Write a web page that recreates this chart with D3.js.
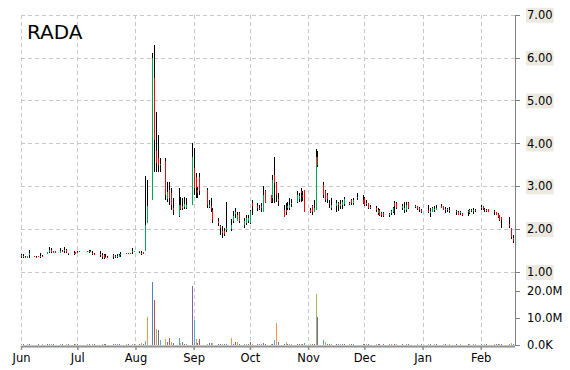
<!DOCTYPE html>
<html>
<head>
<meta charset="utf-8">
<script src="https://cdn.jsdelivr.net/npm/d3@7"></script>
<style>
  html, body { margin: 0; padding: 0; background: #fff; }
  svg { display: block; font-family: "DejaVu Sans", Verdana, sans-serif; }
</style>
</head>
<body>
<svg id="chart" width="570" height="370"></svg>
<script>
// ticker shown top-left
var ticker = "RADA";

// months in the chart, market holidays and last session
var months = ["2015-06", "2015-07", "2015-08", "2015-09", "2015-10", "2015-11", "2015-12", "2016-01", "2016-02"];
var holidays = ["2015-07-03", "2015-09-07", "2015-11-26", "2015-12-25", "2016-01-01", "2016-01-18", "2016-02-15"];
var lastSession = "2016-02-19";

// daily [open, high, low, close], one array per month
var pricesJun = [
	[1.40,1.42,1.33,1.35],[1.36,1.41,1.33,1.38],[1.36,1.38,1.33,1.35],[1.33,1.38,1.32,1.38],[1.40,1.51,1.32,1.44],
	[1.37,1.38,1.35,1.36],[1.36,1.38,1.32,1.34],[1.38,1.38,1.36,1.37],[1.37,1.44,1.32,1.38],[1.38,1.40,1.36,1.37],
	[1.42,1.47,1.41,1.47],[1.47,1.59,1.44,1.52],[1.52,1.55,1.44,1.46],[1.49,1.50,1.44,1.45],[1.48,1.50,1.44,1.45],
	[1.45,1.55,1.44,1.50],[1.50,1.52,1.46,1.47],[1.48,1.59,1.44,1.52],[1.52,1.53,1.44,1.47],[1.44,1.44,1.40,1.41],
	[1.42,1.50,1.40,1.44],[1.46,1.47,1.42,1.43]
];
var pricesJul = [
	[1.47,1.48,1.44,1.45],[1.49,1.50,1.47,1.48],
	[1.49,1.50,1.47,1.48],[1.50,1.51,1.45,1.46],[1.50,1.51,1.47,1.48],[1.45,1.49,1.40,1.44],[1.43,1.45,1.41,1.42],
	[1.42,1.48,1.36,1.40],[1.40,1.44,1.30,1.36],[1.39,1.41,1.30,1.32],[1.34,1.42,1.32,1.36],[1.36,1.38,1.33,1.35],
	[1.40,1.43,1.30,1.34],[1.38,1.40,1.33,1.35],[1.34,1.43,1.32,1.38],[1.36,1.42,1.35,1.40],[1.39,1.46,1.36,1.43],
	[1.44,1.45,1.41,1.42],[1.44,1.45,1.41,1.42],[1.44,1.45,1.42,1.43],[1.46,1.56,1.42,1.50],[1.48,1.50,1.46,1.48]
];
var pricesAug = [
	[1.48,1.49,1.45,1.46],[1.45,1.50,1.40,1.44],[1.46,1.47,1.42,1.43],[1.50,3.23,1.50,2.10],[2.14,3.15,2.14,2.53],
	[2.68,6.11,2.68,5.99],[5.52,6.30,3.34,4.08],[3.81,4.74,3.34,3.54],[3.65,4.20,3.34,3.50],[3.50,3.65,3.34,3.52],
	[3.58,3.65,2.68,2.80],[2.70,3.11,2.64,2.87],[2.92,3.11,2.56,2.72],[2.84,2.96,2.45,2.56],[2.50,2.72,2.33,2.45],
	[2.30,2.96,2.28,2.56],[2.56,2.76,2.45,2.48],[2.50,2.72,2.45,2.55],[2.52,2.76,2.48,2.58],[2.49,2.72,2.48,2.56],
	[2.56,4.00,2.56,3.69]
];
var pricesSep = [
	[3.42,3.89,2.80,2.95],[3.22,3.30,2.72,2.95],[2.91,2.99,2.72,2.84],[3.22,3.30,2.80,2.88],
	[2.91,2.96,2.49,2.56],[2.52,2.68,2.49,2.56],[2.55,2.72,2.41,2.48],[2.45,2.49,2.14,2.22],
	[2.20,2.26,2.07,2.15],[2.07,2.10,1.86,2.02],[1.95,2.07,1.80,1.92],[1.96,2.03,1.84,1.88],[1.98,2.64,1.94,2.02],
	[2.00,2.23,1.95,2.10],[2.20,2.43,2.15,2.30],[2.35,2.49,2.26,2.40],[2.20,2.40,2.18,2.34],[2.37,2.40,2.15,2.18],
	[2.10,2.26,2.03,2.18],[2.15,2.33,2.10,2.25],[2.20,2.33,2.15,2.26]
];
var pricesOct = [
	[2.15,2.45,2.12,2.42],[2.61,2.68,2.33,2.53],
	[2.53,2.62,2.43,2.49],[2.50,2.56,2.45,2.48],[2.53,2.60,2.41,2.49],[2.41,3.00,2.40,2.80],[2.88,2.92,2.60,2.60],
	[2.80,2.80,2.60,2.64],[2.72,3.27,2.60,3.15],[3.27,3.69,2.60,3.07],[3.07,3.11,2.64,2.80],[2.70,2.84,2.53,2.66],
	[2.45,2.56,2.29,2.29],[2.45,2.60,2.33,2.40],[2.50,2.64,2.45,2.55],[2.49,2.72,2.45,2.56],[2.58,2.70,2.52,2.62],
	[2.64,2.88,2.60,2.80],[2.70,2.84,2.64,2.78],[2.88,2.96,2.64,2.84],[2.80,2.90,2.65,2.75],[2.92,2.92,2.41,2.41]
];
var pricesNov = [
	[2.45,2.49,2.37,2.40],[2.53,2.56,2.33,2.41],[2.41,2.68,2.40,2.49],[2.45,3.86,2.45,3.69],[3.69,3.82,3.46,3.50],
	[3.03,3.11,2.72,2.80],[2.90,2.92,2.64,2.68],[2.80,2.84,2.60,2.70],[2.62,2.68,2.49,2.58],[2.49,2.72,2.45,2.56],
	[2.53,2.68,2.41,2.60],[2.60,2.64,2.43,2.56],[2.55,2.68,2.46,2.58],[2.56,2.68,2.46,2.64],[2.58,2.76,2.53,2.70],
	[2.60,2.64,2.56,2.62],[2.68,2.70,2.56,2.60],[2.62,2.72,2.56,2.68],[2.74,2.84,2.68,2.76],
	[2.68,2.80,2.58,2.60]
];
var pricesDec = [
	[2.72,2.74,2.54,2.56],[2.58,2.68,2.53,2.60],[2.60,2.62,2.47,2.49],[2.50,2.56,2.47,2.52],
	[2.50,2.53,2.41,2.45],[2.37,2.49,2.33,2.45],[2.45,2.47,2.31,2.33],[2.38,2.41,2.29,2.33],[2.37,2.39,2.29,2.31],
	[2.33,2.37,2.29,2.35],[2.37,2.45,2.33,2.43],[2.39,2.51,2.37,2.49],[2.60,2.66,2.33,2.53],[2.62,2.64,2.47,2.49],
	[2.50,2.58,2.45,2.55],[2.45,2.64,2.37,2.50],[2.45,2.64,2.41,2.56],[2.62,2.64,2.47,2.49],
	[2.52,2.56,2.49,2.54],[2.53,2.53,2.45,2.47],[2.49,2.51,2.41,2.45],[2.45,2.47,2.37,2.39]
];
var pricesJan = [
	[2.45,2.56,2.37,2.40],[2.38,2.49,2.29,2.42],[2.41,2.51,2.40,2.49],[2.45,2.53,2.41,2.47],[2.45,2.56,2.44,2.50],
	[2.55,2.58,2.49,2.49],[2.53,2.53,2.45,2.45],[2.48,2.51,2.38,2.44],[2.45,2.49,2.41,2.46],[2.45,2.51,2.38,2.42],
	[2.42,2.45,2.33,2.40],[2.41,2.43,2.33,2.33],[2.38,2.43,2.33,2.40],[2.37,2.37,2.30,2.33],
	[2.40,2.45,2.30,2.42],[2.37,2.46,2.36,2.45],[2.45,2.46,2.41,2.42],[2.44,2.49,2.35,2.45],[2.45,2.47,2.41,2.44]
];
var pricesFeb = [
	[2.50,2.56,2.45,2.52],[2.55,2.55,2.44,2.46],[2.47,2.49,2.41,2.45],[2.45,2.48,2.41,2.44],[2.46,2.47,2.40,2.41],
	[2.42,2.45,2.33,2.40],[2.40,2.41,2.32,2.33],[2.35,2.37,2.25,2.28],[2.33,2.33,2.20,2.21],[2.28,2.29,2.02,2.21],
	[2.12,2.29,2.02,2.08],[2.03,2.03,1.78,1.82],[1.80,1.86,1.67,1.72],[1.64,1.86,1.55,1.71]
];

// daily volume in millions of shares, one array per month
var volumeJun = [0.3,0.2,0.1,0.3,0.2, 0.1,0.0,0.2,0.1,0.3, 0.2,0.4,0.3,0.2,0.1, 0.3,0.2,0.1,0.3,0.2, 0.4,0.2];
var volumeJul = [0.2,0.1, 0.3,0.2,0.1,0.2,0.3, 0.1,0.2,0.3,0.2,0.1, 0.2,0.3,0.4,0.2,0.1, 0.3,0.2,0.1,0.2,0.4];
var volumeAug = [0.3,0.6,0.3,1.5,10.5, 23.5,16.7,5.9,5.6,1.9, 2.2,1.2,2.7,1.2,0.6, 2.7,0.6,1.2,0.5,0.5, 22.0];
var volumeSep = [9.3,2.3,0.7,2.2, 0.5,0.6,0.7,0.6, 0.4,0.3,0.2,0.3,0.5, 2.6,0.3,1.0,1.0,0.2, 0.3,0.4,0.3];
var volumeOct = [1.0,0.3, 0.3,0.2,0.3,0.6,0.4, 0.3,0.5,1.9,8.3,1.0, 0.3,1.0,0.4,0.3,0.2, 0.3,0.2,0.3,0.4,0.8];
var volumeNov = [0.3,0.3,0.4,18.9,10.4, 1.9,1.0,0.4,0.3,0.3, 0.2,0.3,0.2,0.2,0.3, 0.2,0.3,0.2,0.1, 0.2];
var volumeDec = [0.2,0.3,0.2,0.1, 0.2,0.3,0.2,0.1,0.2, 0.3,0.2,0.1,0.2,0.3, 0.2,0.1,0.2,0.3, 0.1,0.2,0.1,0.2];
var volumeJan = [0.2,0.3,0.1,0.2,0.2, 0.1,0.2,0.3,0.1,0.2, 0.2,0.1,0.2,0.1, 0.2,0.3,0.1,0.2,0.2];
var volumeFeb = [0.2,0.1,0.2,0.2,0.1, 0.2,0.3,0.2,0.3,0.4, 0.5,0.6,0.4,0.5];

// axis ticks
var priceTicks = [1, 2, 3, 4, 5, 6, 7];
var volumeTicks = [0, 10, 20];

var monthPrices = [pricesJun, pricesJul, pricesAug, pricesSep, pricesOct, pricesNov, pricesDec, pricesJan, pricesFeb];
var monthVolumes = [volumeJun, volumeJul, volumeAug, volumeSep, volumeOct, volumeNov, volumeDec, volumeJan, volumeFeb];

var volumeColors = ["#4F81BD", "#C0504D", "#9BBB59", "#8064A2", "#4BACC6", "#F79646"];
var upColor = "#00A651", downColor = "#FF0000";

var parseDay = d3.timeParse("%Y-%m-%d"),
	parseMonth = d3.timeParse("%Y-%m"),
	fmtDay = d3.timeFormat("%Y-%m-%d");

// build the daily rows: trading sessions of each month zipped with its values
var rows = [];
months.forEach(function(m, mi) {
	var start = parseMonth(m),
		end = d3.timeMonth.offset(start, 1),
		last = parseDay(lastSession);
	var sessions = d3.timeDay.range(start, end).filter(function(d) {
		return d.getDay() % 6 !== 0 && holidays.indexOf(fmtDay(d)) < 0 && d <= last;
	});
	sessions.forEach(function(d, i) {
		var p = monthPrices[mi][i];
		if (!p) return;
		rows.push({ date: d, open: p[0], high: p[1], low: p[2], close: p[3], volume: monthVolumes[mi][i] });
	});
});

var svg = d3.select("#chart");

var left = 21, right = 515;

var x = d3.scaleTime()
	.domain([rows[0].date, rows[rows.length - 1].date])
	.range([left, right - 0.5]);

var yPrice = d3.scaleLinear().domain([1, 7]).range([272, 14.7]);
var yVol = d3.scaleLinear().domain([0, 20]).range([345, 291]);

var monthTicks = months.map(function(m) { return parseMonth(m); });

// grid
var grid = svg.append("g")
	.attr("stroke", "#c8c8c8")
	.attr("stroke-width", 1)
	.attr("stroke-dasharray", "4,3")
	.attr("shape-rendering", "crispEdges");

grid.selectAll("line.h")
	.data(priceTicks)
	.enter().append("line")
	.attr("class", "h")
	.attr("x1", left).attr("x2", right)
	.attr("y1", function(d) { return Math.round(yPrice(d)) + 0.5; })
	.attr("y2", function(d) { return Math.round(yPrice(d)) + 0.5; });

grid.selectAll("line.v")
	.data(monthTicks)
	.enter().append("line")
	.attr("class", "v")
	.attr("x1", function(d) { return Math.round(x(d)) + 0.5; })
	.attr("x2", function(d) { return Math.round(x(d)) + 0.5; })
	.attr("y1", yPrice(7)).attr("y2", yVol(0));

// volume bars, colours cycle through the palette
svg.append("g").selectAll("rect")
	.data(rows)
	.enter().append("rect")
	.attr("x", function(d) { return Math.round(x(d.date)); })
	.attr("width", 1)
	.attr("y", function(d) { return Math.round(yVol(d.volume)); })
	.attr("height", function(d) { return Math.max(0, yVol(0) - Math.round(yVol(d.volume))); })
	.attr("fill", function(d, i) { return volumeColors[(i + 5) % 6]; })
	.attr("shape-rendering", "crispEdges");

// candles: black high-low line, coloured open-close part
var candles = svg.append("g").attr("shape-rendering", "crispEdges")
	.selectAll("g")
	.data(rows)
	.enter().append("g");

candles.append("rect")
	.attr("x", function(d) { return Math.round(x(d.date)); })
	.attr("width", 1)
	.attr("y", function(d) { return Math.round(yPrice(d.high)); })
	.attr("height", function(d) { return Math.max(1, Math.round(yPrice(d.low)) - Math.round(yPrice(d.high))); })
	.attr("fill", "#000");

candles.append("rect")
	.attr("x", function(d) { return Math.round(x(d.date)); })
	.attr("width", 1)
	.attr("y", function(d) { return Math.round(yPrice(Math.max(d.open, d.close))); })
	.attr("height", function(d) {
		return Math.max(1, Math.round(yPrice(Math.min(d.open, d.close))) - Math.round(yPrice(Math.max(d.open, d.close))));
	})
	.attr("fill", function(d) { return d.close >= d.open ? upColor : downColor; });

// right axes
var priceAxis = svg.append("g")
	.attr("transform", "translate(" + right + ",0)")
	.call(d3.axisRight(yPrice).tickValues(priceTicks).tickFormat(d3.format(".2f")).tickSize(5).tickSizeOuter(0).tickPadding(7));

var volAxis = svg.append("g")
	.attr("transform", "translate(" + right + ",0)")
	.call(d3.axisRight(yVol).tickValues(volumeTicks)
		.tickFormat(function(v) { return v === 0 ? "0.0K" : v.toFixed(1) + "M"; })
		.tickSize(5).tickSizeOuter(0).tickPadding(7));

[priceAxis, volAxis].forEach(function(a) {
	a.select(".domain").remove();
	a.selectAll(".tick line").attr("stroke", "#808080").attr("shape-rendering", "crispEdges");
	a.selectAll(".tick text").attr("fill", "#000").style("font-size", "11.5px").style("font-family", "'DejaVu Sans', Verdana, sans-serif");
});

// beige boxes behind price labels
priceAxis.selectAll(".tick").each(function() {
	var t = d3.select(this), b = t.select("text").node().getBBox();
	t.insert("rect", "text")
		.attr("x", b.x - 1).attr("y", -7.5)
		.attr("width", b.width + 2).attr("height", 15)
		.attr("fill", "#ECEAE0");
});

svg.append("line")
	.attr("x1", right + 0.5).attr("x2", right + 0.5)
	.attr("y1", yPrice(7)).attr("y2", yVol(0) + 1)
	.attr("stroke", "#808080")
	.attr("shape-rendering", "crispEdges");

// bottom axis
var xAxis = svg.append("g")
	.attr("transform", "translate(0," + (yVol(0) + 1) + ")")
	.call(d3.axisBottom(x).tickValues(monthTicks).tickFormat(d3.timeFormat("%b")).tickSize(4).tickSizeOuter(0).tickPadding(4));

xAxis.select(".domain").attr("stroke", "#909090").attr("stroke-width", 2);
xAxis.selectAll(".tick line").attr("stroke", "#909090").attr("stroke-width", 1.5);
xAxis.selectAll(".tick text").attr("fill", "#000").style("font-size", "11.5px").style("font-family", "'DejaVu Sans', Verdana, sans-serif");

// ticker label
svg.append("text")
	.attr("x", 27).attr("y", 39)
	.attr("fill", "#000")
	.style("font-size", "20px")
	.text(ticker);
</script>
</body>
</html>
